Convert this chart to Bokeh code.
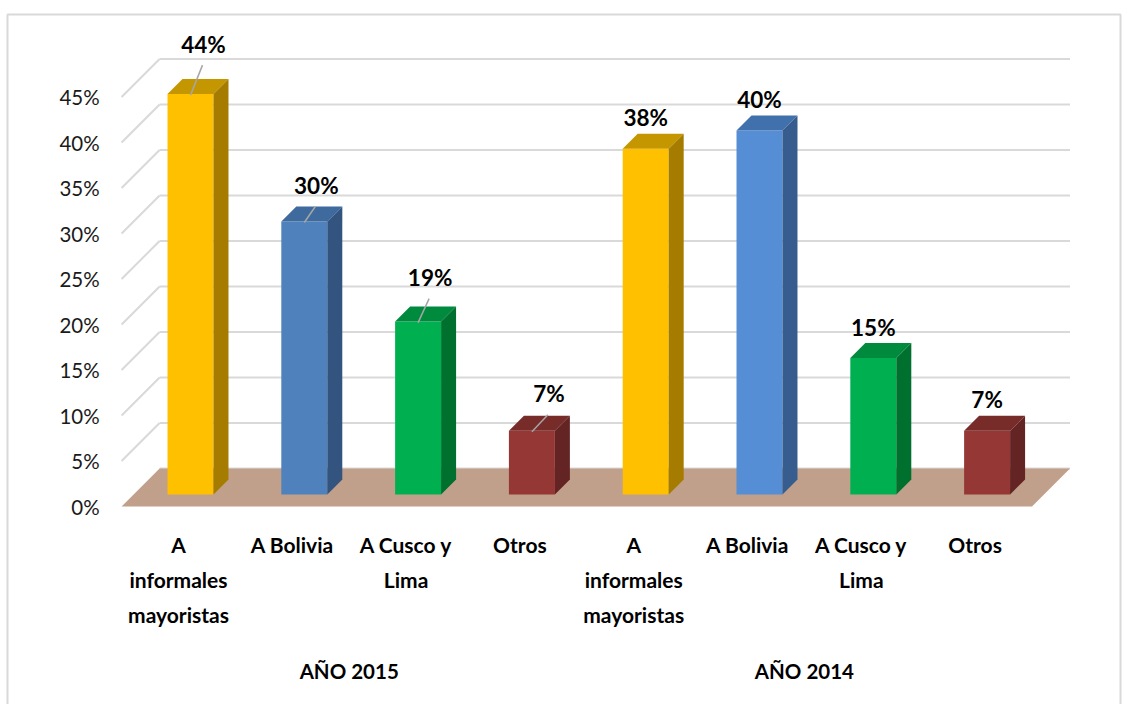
from bokeh.plotting import figure
from bokeh.models import Range1d
from bokeh.core.properties import value
from bokeh.embed import file_html
from bokeh.resources import INLINE

# ---------------- data ----------------
groups = ["AÑO 2015", "AÑO 2014"]
categories = ["A\ninformales\nmayoristas", "A Bolivia", "A Cusco y\nLima", "Otros"]
values_2015 = [44, 30, 19, 7]
values_2014 = [38, 40, 15, 7]
tick_values = [0, 5, 10, 15, 20, 25, 30, 35, 40, 45]
tick_labels = ["0%", "5%", "10%", "15%", "20%", "25%", "30%", "35%", "40%", "45%"]

# ---------------- styles / layout ----------------
front_cols = ["#FFC000", "#4F81BD", "#00B050", "#953735", "#FFC000", "#558ED5", "#00B050", "#953735"]
top_cols = ["#C49600", "#3E6A9E", "#008A3E", "#772C2A", "#C49600", "#4171AC", "#008A3E", "#772C2A"]
side_cols = ["#A67C00", "#32547E", "#00702F", "#632423", "#A67C00", "#365D8E", "#00702F", "#632423"]
FLOOR = "#C0A08A"
GRID = "#D9D9D9"

W, H = 1127, 704
SX = 113.8   # px per category slot
SY = 9.1     # px per percent
X0 = 190.0   # pixel x of slot 0 (bar front plane)
Y0 = 494.0   # pixel y (from top) of 0% (bar front plane)
BAR_HALF = 0.202
BAR_DEPTH = 15.0   # px
WALL_T = 26.0      # back wall depth behind bar front plane (px)
FRONT_T = -12.0    # floor front edge (px)

p = figure(width=W, height=H, output_backend="svg", toolbar_location=None,
           x_range=Range1d(-X0 / SX, (W - X0) / SX),
           y_range=Range1d((Y0 - H) / SY, Y0 / SY),
           min_border=0, x_axis_type=None, y_axis_type=None)
p.outline_line_color = None
p.grid.visible = False
p.background_fill_color = "white"
p.border_fill_color = "white"


def sh(x, v, t):
    """shift a point back in depth by t px (oblique projection)"""
    return x + t / SX, v + t / SY


def px_dx(d):
    return d / SX


def px_dy(d):
    return -d / SY  # pixel down -> negative data


# outer border
p.quad(left=[(7 - X0) / SX], right=[(1120 - X0) / SX], top=[(Y0 - 14) / SY], bottom=[(Y0 - 712) / SY],
       fill_color=None, line_color=GRID, line_width=2)

n = len(categories) * len(groups)
xl, xr = -0.5, n - 0.5

# gridlines: back wall + left side wall
gx0, gy0, gx1, gy1 = [], [], [], []
for v in tick_values:
    a = sh(xl, v, WALL_T)
    b = sh(xr, v, WALL_T)
    gx0.append(a[0]); gy0.append(a[1]); gx1.append(b[0]); gy1.append(b[1])
    if v > 0:
        c = sh(xl, v, FRONT_T)
        gx0.append(a[0]); gy0.append(a[1]); gx1.append(c[0]); gy1.append(c[1])
p.segment(x0=gx0, y0=gy0, x1=gx1, y1=gy1, line_color=GRID, line_width=2)

# floor
fl = [sh(xl, 0, FRONT_T), sh(xr, 0, FRONT_T), sh(xr, 0, WALL_T), sh(xl, 0, WALL_T)]
p.patch([q[0] for q in fl], [q[1] for q in fl], fill_color=FLOOR, line_color=None)

# y tick labels
lab_x = sh(xl, 0, FRONT_T)[0] - px_dx(22)
p.text(x=[lab_x] * len(tick_values), y=[sh(xl, v, FRONT_T)[1] for v in tick_values], text=tick_labels,
       text_align="right", text_baseline="middle", text_font=value("Lato"),
       text_font_size="20.5px", text_color="#1a1a1a")

# bars
all_vals = values_2015 + values_2014
for i, v in enumerate(all_vals):
    l, r = i - BAR_HALF, i + BAR_HALF
    p.quad(left=[l], right=[r], bottom=[0], top=[v], fill_color=front_cols[i], line_color=None)
    t1 = sh(l, v, BAR_DEPTH); t2 = sh(r, v, BAR_DEPTH)
    p.patch([l, r, t2[0], t1[0]], [v, v, t2[1], t1[1]], fill_color=top_cols[i], line_color=None)
    s1 = sh(r, 0, BAR_DEPTH); s2 = sh(r, v, BAR_DEPTH)
    p.patch([r, r, s2[0], s1[0]], [0, v, s2[1], s1[1]], fill_color=side_cols[i], line_color=None)

# value labels: 2015 moved labels with leader lines, 2014 above bars
lab_off_2015 = [(13, -50), (12, -36), (12, -44), (17, -37)]   # px
vx, vy, vt = [], [], []
lx0, ly0, lx1, ly1 = [], [], [], []
for i, v in enumerate(values_2015):
    dx, dy = lab_off_2015[i]
    cx, cy = i + px_dx(dx), v + px_dy(dy)
    vx.append(cx); vy.append(cy); vt.append(f"{v}%")
    lx0.append(i); ly0.append(v + px_dy(1))
    lx1.append(cx - px_dx(1)); ly1.append(cy + px_dy(21))
for j, v in enumerate(values_2014):
    i = j + len(values_2015)
    vx.append(i); vy.append(v + px_dy(-31)); vt.append(f"{v}%")
p.segment(x0=lx0, y0=ly0, x1=lx1, y1=ly1, line_color="#A6A6A6", line_width=1.5)
p.text(x=vx, y=vy, text=vt, text_align="center", text_baseline="middle",
       text_font=value("Lato"), text_font_style="bold", text_font_size="22.5px", text_color="black")

# category labels (one glyph per line)
cx_, cy_, ct_ = [], [], []
for g in range(len(groups)):
    for k, cat in enumerate(categories):
        i = g * len(categories) + k
        for ln, line in enumerate(cat.split("\n")):
            cx_.append(i + px_dx(FRONT_T)); cy_.append(px_dy(544 - Y0 + 35 * ln)); ct_.append(line)
p.text(x=cx_, y=cy_, text=ct_, text_align="center", text_baseline="middle",
       text_font=value("Lato"), text_font_style="bold", text_font_size="21px", text_color="black")

# group labels
gxs = [(len(categories) - 1) / 2 + g * len(categories) + px_dx(FRONT_T) for g in range(len(groups))]
p.text(x=gxs, y=[px_dy(670 - Y0)] * len(groups), text=groups, text_align="center", text_baseline="middle",
       text_font=value("Lato"), text_font_style="bold", text_font_size="20.5px", text_color="black")

open("out.html", "w").write(file_html(p, INLINE))
